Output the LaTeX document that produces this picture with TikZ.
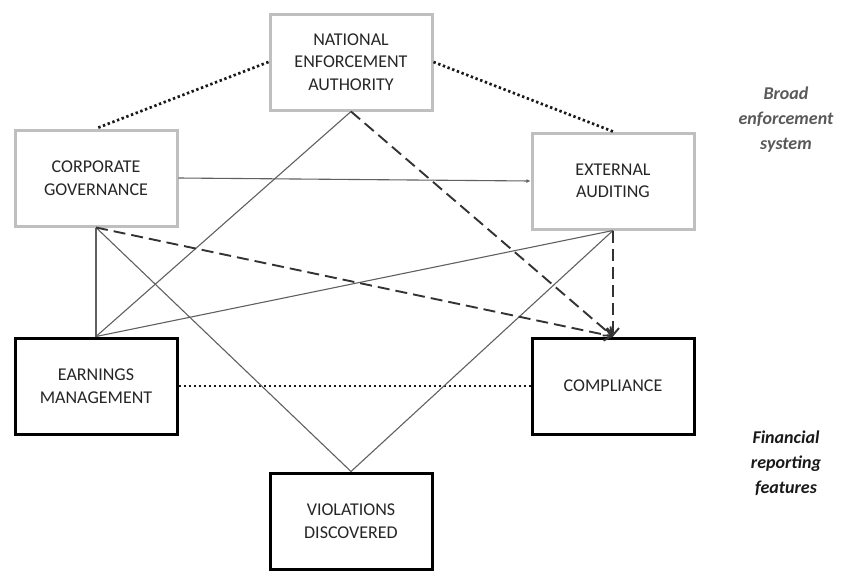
\documentclass[tikz,border=0pt]{standalone}
\usepackage{fontspec}
\setmainfont{Carlito}
\usetikzlibrary{arrows.meta}
\usetikzlibrary{calc,positioning}

\begin{document}
\begin{tikzpicture}[x=1pt,y=-1pt]
    \def\boxWidth{162pt}
    \def\boxHeight{96pt}

    \tikzstyle{system}=[draw=gray!50,line width=3pt,fill=white,inner sep=0pt,minimum
    width=\boxWidth,minimum height=\boxHeight,align=center,text=black!85,font=\fontsize{18}{22.5}\selectfont]
    \tikzstyle{feature}=[system,draw=black,line width=3pt]
    \tikzstyle{link}=[draw=gray!75!black,line width=1.1pt]
    \tikzstyle{effect}=[draw=black!80,line width=1.9pt,dash pattern=on 12pt off 6pt]
    \tikzstyle{tie}=[draw=black!90,line width=2.7pt,dash pattern=on 2.4pt off 2.6pt]
    \tikzstyle{caption}=[align=center,font=\fontsize{18}{25}\selectfont\bfseries\itshape]

    \useasboundingbox (0,0) rectangle (847,571);

    % Broad enforcement system
    \node[system] (NEA) at (351,62) {NATIONAL\\ENFORCEMENT\\AUTHORITY};
    \node[system] (CG) at (96,178) {CORPORATE\\GOVERNANCE};
    \node[system] (EA) at (613,181) {EXTERNAL\\AUDITING};

    % Financial reporting features
    \node[feature] (EM) at (96,386) {EARNINGS\\MANAGEMENT};
    \node[feature] (CO) at (613,386) {COMPLIANCE};
    \node[feature] (VD) at (351,521) {VIOLATIONS\\DISCOVERED};

    % Captions
    \node[caption,text=black!65] (broad) at (786,120) {Broad\\enforcement\\system};
    \node[caption,text=black!90] (financial) at (786,463) {Financial\\reporting\\features};

    % Dotted ties
    \draw[tie] (NEA.west) -- (CG.north);
    \draw[tie] (NEA.east) -- (EA.north);
    \draw[tie] (EM.east) -- (CO.west);

    % Solid links
    \draw[link,-{Latex[length=4pt,width=4pt]}] (CG.east) -- (EA.west);
    \draw[link] (NEA.south) -- (EM.north);
    \draw[link] (CG.south) -- (EM.north);
    \draw[link] (CG.south) -- (VD.north);
    \draw[link] (EA.south) -- (EM.north);
    \draw[link] (EA.south) -- (VD.north);

    % Dashed effects on compliance
    \draw[effect,-{Straight Barb[length=7pt,width=12pt]}] (NEA.south) -- (CO.north);
    \draw[effect,-{Straight Barb[length=7pt,width=12pt]}] (CG.south) -- (CO.north);
    \draw[effect,-{Straight Barb[length=7pt,width=12pt]}] (EA.south) -- (CO.north);
\end{tikzpicture}
\end{document}
